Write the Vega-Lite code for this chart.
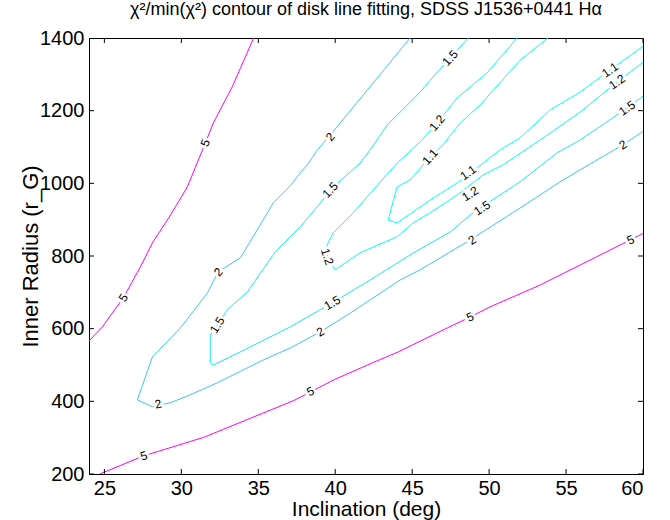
{
  "$schema": "https://vega.github.io/schema/vega-lite/v6.json",
  "width": 554,
  "height": 436,
  "autosize": {"type": "none"},
  "padding": {"left": 89, "top": 38, "right": 27, "bottom": 46},
  "background": "white",
  "title": {
    "text": "χ²/min(χ²) contour of disk line fitting, SDSS J1536+0441 Hα",
    "font": "Liberation Sans",
    "fontSize": 18,
    "fontWeight": "normal",
    "color": "black",
    "anchor": "middle",
    "offset": 9
  },
  "config": {
    "view": {"stroke": "black", "strokeWidth": 1},
    "title": {"font": "Liberation Sans", "fontSize": 18, "fontWeight": "normal", "color": "black"},
    "axis": {
      "grid": false,
      "zindex": 1,
      "domainColor": "black",
      "tickColor": "black",
      "labelColor": "black",
      "titleColor": "black",
      "labelFont": "Liberation Sans",
      "titleFont": "Liberation Sans",
      "titleFontWeight": "normal"
    }
  },
  "datasets": {
    "lines": [
      {"c":"5a","k":"5","i":0,"x":34.7,"y":1400},
      {"c":"5a","k":"5","i":1,"x":33.3,"y":1265},
      {"c":"5a","k":"5","i":2,"x":32.08,"y":1166},
      {"c":"5a","k":"5","i":3,"x":31.56,"y":1111},
      {"c":"5a","k":"5","i":4,"x":30.39,"y":990},
      {"c":"5a","k":"5","i":5,"x":29.3,"y":913},
      {"c":"5a","k":"5","i":6,"x":28.12,"y":836},
      {"c":"5a","k":"5","i":7,"x":27.34,"y":770},
      {"c":"5a","k":"5","i":8,"x":26.23,"y":685},
      {"c":"5a","k":"5","i":9,"x":24.87,"y":605},
      {"c":"5a","k":"5","i":10,"x":24.0,"y":566},

      {"c":"5b","k":"5","i":0,"x":24.7,"y":200},
      {"c":"5b","k":"5","i":1,"x":27.56,"y":250},
      {"c":"5b","k":"5","i":2,"x":31.46,"y":301},
      {"c":"5b","k":"5","i":3,"x":37.3,"y":402},
      {"c":"5b","k":"5","i":4,"x":39.9,"y":459},
      {"c":"5b","k":"5","i":5,"x":42.42,"y":506},
      {"c":"5b","k":"5","i":6,"x":44.1,"y":536},
      {"c":"5b","k":"5","i":7,"x":47.28,"y":602},
      {"c":"5b","k":"5","i":8,"x":48.77,"y":632},
      {"c":"5b","k":"5","i":9,"x":50.06,"y":660},
      {"c":"5b","k":"5","i":10,"x":53.31,"y":720},
      {"c":"5b","k":"5","i":11,"x":57.0,"y":798},
      {"c":"5b","k":"5","i":12,"x":60,"y":862},

      {"c":"2","k":"2","i":0,"x":44.87,"y":1400},
      {"c":"2","k":"2","i":1,"x":39.68,"y":1133},
      {"c":"2","k":"2","i":2,"x":38.84,"y":1092},
      {"c":"2","k":"2","i":3,"x":38.19,"y":1051},
      {"c":"2","k":"2","i":4,"x":37.73,"y":1029},
      {"c":"2","k":"2","i":5,"x":37.08,"y":993},
      {"c":"2","k":"2","i":6,"x":35.97,"y":946},
      {"c":"2","k":"2","i":7,"x":35.32,"y":899},
      {"c":"2","k":"2","i":8,"x":33.83,"y":795},
      {"c":"2","k":"2","i":9,"x":32.4,"y":756},
      {"c":"2","k":"2","i":10,"x":31.69,"y":698},
      {"c":"2","k":"2","i":11,"x":29.94,"y":602},
      {"c":"2","k":"2","i":12,"x":28.12,"y":522},
      {"c":"2","k":"2","i":13,"x":27.14,"y":404},
      {"c":"2","k":"2","i":14,"x":28.12,"y":385},
      {"c":"2","k":"2","i":15,"x":29.29,"y":396},
      {"c":"2","k":"2","i":16,"x":30.58,"y":418},
      {"c":"2","k":"2","i":17,"x":32.34,"y":451},
      {"c":"2","k":"2","i":18,"x":35.33,"y":514},
      {"c":"2","k":"2","i":19,"x":37.08,"y":547},
      {"c":"2","k":"2","i":20,"x":39.03,"y":591},
      {"c":"2","k":"2","i":21,"x":40.98,"y":643},
      {"c":"2","k":"2","i":22,"x":44.22,"y":734},
      {"c":"2","k":"2","i":23,"x":45.52,"y":762},
      {"c":"2","k":"2","i":24,"x":48.57,"y":839},
      {"c":"2","k":"2","i":25,"x":52.01,"y":932},
      {"c":"2","k":"2","i":26,"x":54.61,"y":1004},
      {"c":"2","k":"2","i":27,"x":55.91,"y":1037},
      {"c":"2","k":"2","i":28,"x":58.7,"y":1106},
      {"c":"2","k":"2","i":29,"x":60,"y":1143},

      {"c":"1.5","k":"1.5","i":0,"x":48.64,"y":1400},
      {"c":"1.5","k":"1.5","i":1,"x":47.47,"y":1345},
      {"c":"1.5","k":"1.5","i":2,"x":46.17,"y":1284},
      {"c":"1.5","k":"1.5","i":3,"x":45.52,"y":1251},
      {"c":"1.5","k":"1.5","i":4,"x":44.03,"y":1188},
      {"c":"1.5","k":"1.5","i":5,"x":43.38,"y":1161},
      {"c":"1.5","k":"1.5","i":6,"x":42.27,"y":1092},
      {"c":"1.5","k":"1.5","i":7,"x":41.62,"y":1056},
      {"c":"1.5","k":"1.5","i":8,"x":39.68,"y":982},
      {"c":"1.5","k":"1.5","i":9,"x":39.03,"y":946},
      {"c":"1.5","k":"1.5","i":10,"x":37.73,"y":880},
      {"c":"1.5","k":"1.5","i":11,"x":37.08,"y":853},
      {"c":"1.5","k":"1.5","i":12,"x":36.1,"y":811},
      {"c":"1.5","k":"1.5","i":13,"x":34.29,"y":701},
      {"c":"1.5","k":"1.5","i":14,"x":32.99,"y":652},
      {"c":"1.5","k":"1.5","i":15,"x":32.34,"y":610},
      {"c":"1.5","k":"1.5","i":16,"x":31.88,"y":583},
      {"c":"1.5","k":"1.5","i":17,"x":31.88,"y":506},
      {"c":"1.5","k":"1.5","i":18,"x":32.08,"y":500},
      {"c":"1.5","k":"1.5","i":19,"x":33.83,"y":536},
      {"c":"1.5","k":"1.5","i":20,"x":37.08,"y":605},
      {"c":"1.5","k":"1.5","i":21,"x":39.81,"y":671},
      {"c":"1.5","k":"1.5","i":22,"x":42.27,"y":734},
      {"c":"1.5","k":"1.5","i":23,"x":45.06,"y":808},
      {"c":"1.5","k":"1.5","i":24,"x":47.47,"y":866},
      {"c":"1.5","k":"1.5","i":25,"x":48.77,"y":913},
      {"c":"1.5","k":"1.5","i":26,"x":50.52,"y":963},
      {"c":"1.5","k":"1.5","i":27,"x":52.01,"y":1004},
      {"c":"1.5","k":"1.5","i":28,"x":54.42,"y":1084},
      {"c":"1.5","k":"1.5","i":29,"x":55.91,"y":1119},
      {"c":"1.5","k":"1.5","i":30,"x":58.96,"y":1207},
      {"c":"1.5","k":"1.5","i":31,"x":60,"y":1240},

      {"c":"1.2","k":"1.2","i":0,"x":51.82,"y":1400},
      {"c":"1.2","k":"1.2","i":1,"x":49.87,"y":1304},
      {"c":"1.2","k":"1.2","i":2,"x":47.92,"y":1235},
      {"c":"1.2","k":"1.2","i":3,"x":46.62,"y":1166},
      {"c":"1.2","k":"1.2","i":4,"x":45.52,"y":1114},
      {"c":"1.2","k":"1.2","i":5,"x":44.03,"y":1056},
      {"c":"1.2","k":"1.2","i":6,"x":42.47,"y":982},
      {"c":"1.2","k":"1.2","i":7,"x":41.17,"y":919},
      {"c":"1.2","k":"1.2","i":8,"x":39.87,"y":864},
      {"c":"1.2","k":"1.2","i":9,"x":39.48,"y":831},
      {"c":"1.2","k":"1.2","i":10,"x":39.48,"y":798},
      {"c":"1.2","k":"1.2","i":11,"x":40.0,"y":762},
      {"c":"1.2","k":"1.2","i":12,"x":41.62,"y":809},
      {"c":"1.2","k":"1.2","i":13,"x":44.03,"y":853},
      {"c":"1.2","k":"1.2","i":14,"x":45.06,"y":891},
      {"c":"1.2","k":"1.2","i":15,"x":46.17,"y":919},
      {"c":"1.2","k":"1.2","i":16,"x":47.92,"y":968},
      {"c":"1.2","k":"1.2","i":17,"x":49.61,"y":1023},
      {"c":"1.2","k":"1.2","i":18,"x":50.91,"y":1051},
      {"c":"1.2","k":"1.2","i":19,"x":53.51,"y":1125},
      {"c":"1.2","k":"1.2","i":20,"x":55.91,"y":1196},
      {"c":"1.2","k":"1.2","i":21,"x":58.31,"y":1279},
      {"c":"1.2","k":"1.2","i":22,"x":60,"y":1333},

      {"c":"1.1","k":"1.1","i":0,"x":53.83,"y":1400},
      {"c":"1.1","k":"1.1","i":1,"x":52.01,"y":1339},
      {"c":"1.1","k":"1.1","i":2,"x":49.42,"y":1216},
      {"c":"1.1","k":"1.1","i":3,"x":48.12,"y":1166},
      {"c":"1.1","k":"1.1","i":4,"x":47.01,"y":1106},
      {"c":"1.1","k":"1.1","i":5,"x":46.17,"y":1073},
      {"c":"1.1","k":"1.1","i":6,"x":44.86,"y":1009},
      {"c":"1.1","k":"1.1","i":7,"x":44.02,"y":990},
      {"c":"1.1","k":"1.1","i":8,"x":43.44,"y":899},
      {"c":"1.1","k":"1.1","i":9,"x":44.02,"y":891},
      {"c":"1.1","k":"1.1","i":10,"x":46.17,"y":954},
      {"c":"1.1","k":"1.1","i":11,"x":47.92,"y":1001},
      {"c":"1.1","k":"1.1","i":12,"x":49.29,"y":1045},
      {"c":"1.1","k":"1.1","i":13,"x":50.71,"y":1092},
      {"c":"1.1","k":"1.1","i":14,"x":52.01,"y":1125},
      {"c":"1.1","k":"1.1","i":15,"x":53.96,"y":1202},
      {"c":"1.1","k":"1.1","i":16,"x":55.91,"y":1251},
      {"c":"1.1","k":"1.1","i":17,"x":57.86,"y":1312},
      {"c":"1.1","k":"1.1","i":18,"x":60,"y":1377}
    ],
    "labels": [
      {"k":"5","x":31.56,"y":1111,"a":-68},
      {"k":"5","x":26.23,"y":685,"a":-58},
      {"k":"5","x":27.56,"y":250,"a":-19},
      {"k":"5","x":38.4,"y":427,"a":-26},
      {"k":"5","x":48.77,"y":632,"a":-24},
      {"k":"5","x":59.2,"y":844,"a":-25},
      {"k":"2","x":39.68,"y":1128,"a":-50},
      {"k":"2","x":32.4,"y":756,"a":-47},
      {"k":"2","x":28.5,"y":392,"a":-12},
      {"k":"2","x":39.03,"y":591,"a":-30},
      {"k":"2","x":48.9,"y":844,"a":-33},
      {"k":"2","x":58.7,"y":1106,"a":-32},
      {"k":"1.5","x":47.47,"y":1345,"a":-48},
      {"k":"1.5","x":39.68,"y":982,"a":-47},
      {"k":"1.5","x":32.34,"y":610,"a":-58},
      {"k":"1.5","x":39.81,"y":671,"a":-31},
      {"k":"1.5","x":49.55,"y":932,"a":-33},
      {"k":"1.5","x":58.96,"y":1207,"a":-35},
      {"k":"1.2","x":46.62,"y":1166,"a":-50},
      {"k":"1.2","x":39.48,"y":798,"a":72},
      {"k":"1.2","x":48.77,"y":971,"a":-33},
      {"k":"1.2","x":58.31,"y":1279,"a":-35},
      {"k":"1.1","x":46.17,"y":1073,"a":-48},
      {"k":"1.1","x":48.64,"y":1029,"a":-35},
      {"k":"1.1","x":57.86,"y":1312,"a":-35}
    ],
    "xticks": [{"t":25},{"t":30},{"t":35},{"t":40},{"t":45},{"t":50},{"t":55},{"t":60}],
    "yticks": [{"t":200},{"t":400},{"t":600},{"t":800},{"t":1000},{"t":1200},{"t":1400}]
  },
  "layer": [
    {
      "data": {"name": "lines"},
      "mark": {"type": "line", "strokeWidth": 1, "clip": true, "interpolate": "linear"},
      "encoding": {
        "x": {
          "field": "x", "type": "quantitative",
          "scale": {"domain": [24, 60], "nice": false, "zero": false},
          "axis": {
            "orient": "bottom",
            "values": [25, 30, 35, 40, 45, 50, 55, 60],
            "ticks": false,
            "tickSize": 0,
            "labelFontSize": 20,
            "labelPadding": 4,
            "title": "Inclination (deg)",
            "titleFontSize": 21,
            "titleBaseline": "alphabetic",
            "titleY": 41.5
          }
        },
        "y": {
          "field": "y", "type": "quantitative",
          "scale": {"domain": [200, 1400], "nice": false, "zero": false},
          "axis": {
            "orient": "left",
            "values": [200, 400, 600, 800, 1000, 1200, 1400],
            "format": "d",
            "ticks": false,
            "tickSize": 0,
            "labelFontSize": 20,
            "labelPadding": 5,
            "title": "Inner Radius (r_G)",
            "titleFontSize": 22,
            "titleBaseline": "alphabetic",
            "titleX": -52
          }
        },
        "color": {
          "field": "k", "type": "nominal",
          "scale": {"domain": ["1.1", "1.2", "1.5", "2", "5"], "range": ["#00ffff", "#07f8ff", "#1ae5ff", "#3bc4ff", "#ff00ff"]},
          "legend": null
        },
        "detail": {"field": "c"},
        "order": {"field": "i", "type": "quantitative"}
      }
    },
    {
      "data": {"name": "xticks"},
      "mark": {"type": "tick", "orient": "vertical", "size": 10, "thickness": 1, "color": "black", "opacity": 1, "clip": true},
      "encoding": {
        "x": {"field": "t", "type": "quantitative", "scale": {"domain": [24, 60], "nice": false, "zero": false}, "axis": null},
        "y": {"datum": 1400, "type": "quantitative", "scale": {"domain": [200, 1400], "nice": false, "zero": false}, "axis": null}
      }
    },
    {
      "data": {"name": "xticks"},
      "mark": {"type": "tick", "orient": "vertical", "size": 10, "thickness": 1, "color": "black", "opacity": 1, "clip": true},
      "encoding": {
        "x": {"field": "t", "type": "quantitative", "scale": {"domain": [24, 60], "nice": false, "zero": false}, "axis": null},
        "y": {"datum": 200, "type": "quantitative", "scale": {"domain": [200, 1400], "nice": false, "zero": false}, "axis": null}
      }
    },
    {
      "data": {"name": "yticks"},
      "mark": {"type": "tick", "orient": "horizontal", "size": 10, "thickness": 1, "color": "black", "opacity": 1, "clip": true},
      "encoding": {
        "y": {"field": "t", "type": "quantitative", "scale": {"domain": [200, 1400], "nice": false, "zero": false}, "axis": null},
        "x": {"datum": 24, "type": "quantitative", "scale": {"domain": [24, 60], "nice": false, "zero": false}, "axis": null}
      }
    },
    {
      "data": {"name": "yticks"},
      "mark": {"type": "tick", "orient": "horizontal", "size": 10, "thickness": 1, "color": "black", "opacity": 1, "clip": true},
      "encoding": {
        "y": {"field": "t", "type": "quantitative", "scale": {"domain": [200, 1400], "nice": false, "zero": false}, "axis": null},
        "x": {"datum": 60, "type": "quantitative", "scale": {"domain": [24, 60], "nice": false, "zero": false}, "axis": null}
      }
    },
    {
      "data": {"name": "labels"},
      "mark": {"type": "text", "font": "Liberation Sans", "fontSize": 12, "fill": "white", "stroke": "white", "strokeWidth": 5, "align": "center", "baseline": "middle"},
      "encoding": {
        "x": {"field": "x", "type": "quantitative", "scale": {"domain": [24, 60], "nice": false, "zero": false}, "axis": null},
        "y": {"field": "y", "type": "quantitative", "scale": {"domain": [200, 1400], "nice": false, "zero": false}, "axis": null},
        "text": {"field": "k"},
        "angle": {"field": "a", "type": "quantitative", "scale": null}
      }
    },
    {
      "data": {"name": "labels"},
      "mark": {"type": "text", "font": "Liberation Sans", "fontSize": 12, "fill": "black", "align": "center", "baseline": "middle"},
      "encoding": {
        "x": {"field": "x", "type": "quantitative", "scale": {"domain": [24, 60], "nice": false, "zero": false}, "axis": null},
        "y": {"field": "y", "type": "quantitative", "scale": {"domain": [200, 1400], "nice": false, "zero": false}, "axis": null},
        "text": {"field": "k"},
        "angle": {"field": "a", "type": "quantitative", "scale": null}
      }
    }
  ],
  "resolve": {"axis": {"x": "independent", "y": "independent"}}
}
